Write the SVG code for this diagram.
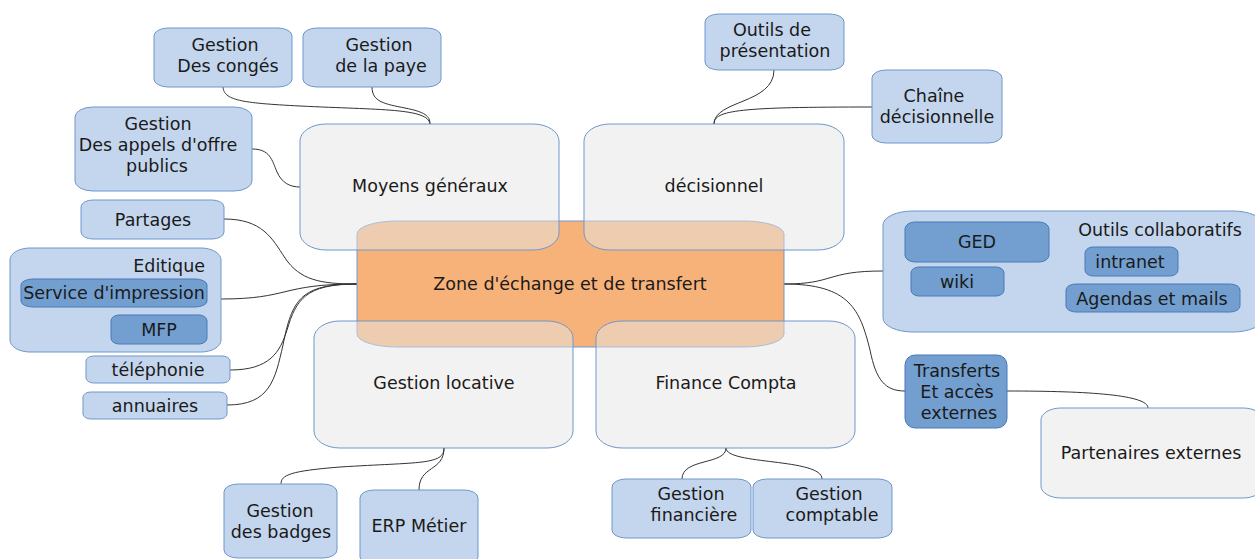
<svg xmlns="http://www.w3.org/2000/svg" width="1255" height="559" viewBox="0 0 1255 559">
<style>
text{font-family:"DejaVu Sans","Liberation Sans",sans-serif;font-size:17.5px;fill:#1a1a1a;text-anchor:middle}
.lb{fill:#c4d6ee;stroke:#6f97cc;stroke-width:1}
.db{fill:#729fcf;stroke:#4a78b8;stroke-width:1}
.gr{fill:#e6e6e6;fill-opacity:0.5;stroke:#6f97cc;stroke-width:1}
.or{fill:#f7b27a;stroke:#6f97cc;stroke-width:1}
.c{fill:none;stroke:#333;stroke-width:1}
</style>
<rect width="1255" height="559" fill="#fff"/>
<g id="connectors">
<path class="c" d="M223,87 C224,100 240,103 300,106 C380,110 428,108 430,124"/>
<path class="c" d="M372,87 C372,102 385,104 405,108 C425,112 430,116 430,124"/>
<path class="c" d="M252,149 C270,149 272,160 277,172 C282,183 290,187 300,187"/>
<path class="c" d="M224,219 C262,219 272,238 285,258 C300,280 320,284 357,284"/>
<path class="c" d="M221,299 C290,299 280,284 357,284"/>
<path class="c" d="M230,370 C270,370 280,352 287,330 C296,300 305,284 357,284"/>
<path class="c" d="M227,405 C270,405 275,380 283,345 C292,300 300,284 357,284"/>
<path class="c" d="M784,284 C835,284 825,271 883,271"/>
<path class="c" d="M784,284 C850,284 860,310 870,350 C876,380 885,391 905,391"/>
<path class="c" d="M1007,391 C1090,391 1148,395 1148,408"/>
<path class="c" d="M714,124 C714,100 774,104 774,70"/>
<path class="c" d="M714,124 C714,110 740,107 872,107"/>
<path class="c" d="M444,448 C444,465 420,462 340,467 C290,471 281,475 281,484"/>
<path class="c" d="M444,448 C444,472 419,465 419,490"/>
<path class="c" d="M726,448 C726,465 682,458 682,479"/>
<path class="c" d="M726,448 C726,465 822,458 822,479"/>
</g>
<g id="zone">
<rect class="or" x="357" y="221" width="427" height="126" rx="40" ry="13"/>
</g>
<g id="moyens">
<rect class="gr" x="300" y="124" width="259" height="126" rx="26" ry="17"/>
<text x="430" y="192">Moyens généraux</text>
</g>
<g id="decisionnel">
<rect class="gr" x="584" y="124" width="260" height="126" rx="26" ry="17"/>
<text x="714" y="192">décisionnel</text>
</g>
<g id="locative">
<rect class="gr" x="314" y="321" width="259" height="127" rx="26" ry="17"/>
<text x="444" y="389">Gestion locative</text>
</g>
<g id="finance">
<rect class="gr" x="596" y="321" width="259" height="127" rx="26" ry="17"/>
<text x="726" y="389">Finance Compta</text>
</g>
<g id="zone-label">
<text x="570" y="290">Zone d'échange et de transfert</text>
</g>
<g id="conges">
<rect class="lb" x="154" y="28" width="138" height="59" rx="14" ry="8"/>
<text x="225" y="51">Gestion</text>
<text x="228" y="72">Des congés</text>
</g>
<g id="paye">
<rect class="lb" x="303" y="28" width="138" height="59" rx="14" ry="8"/>
<text x="379" y="51">Gestion</text>
<text x="381" y="72">de la paye</text>
</g>
<g id="appels">
<rect class="lb" x="75" y="107" width="177" height="84" rx="18" ry="10"/>
<text x="158" y="130">Gestion</text>
<text x="158" y="151">Des appels d'offre</text>
<text x="157" y="172">publics</text>
</g>
<g id="partages">
<rect class="lb" x="81" y="200" width="143" height="39" rx="12" ry="7"/>
<text x="153" y="226">Partages</text>
</g>
<g id="editique">
<rect class="lb" x="10" y="248" width="211" height="104" rx="20" ry="12"/>
<text x="205" y="272" style="text-anchor:end">Editique</text>
<rect class="db" x="21" y="279" width="186" height="28" rx="12" ry="6"/>
<text x="114" y="299">Service d'impression</text>
<rect class="db" x="111" y="315" width="96" height="29" rx="8" ry="6"/>
<text x="159" y="336">MFP</text>
</g>
<g id="telephonie">
<rect class="lb" x="86" y="356" width="144" height="27" rx="8" ry="5"/>
<text x="158" y="376">téléphonie</text>
</g>
<g id="annuaires">
<rect class="lb" x="83" y="392" width="144" height="27" rx="8" ry="5"/>
<text x="155" y="412">annuaires</text>
</g>
<g id="presentation">
<rect class="lb" x="705" y="14" width="139" height="56" rx="14" ry="8"/>
<text x="772" y="36">Outils de</text>
<text x="775" y="57">présentation</text>
</g>
<g id="chaine">
<rect class="lb" x="872" y="70" width="130" height="73" rx="14" ry="8"/>
<text x="934" y="102">Chaîne</text>
<text x="937" y="123">décisionnelle</text>
</g>
<g id="collaboratifs">
<rect class="lb" x="883" y="211" width="380" height="121" rx="30" ry="14"/>
<text x="1160" y="236">Outils collaboratifs</text>
<rect class="db" x="905" y="222" width="144" height="40" rx="10" ry="7"/>
<text x="977" y="248">GED</text>
<rect class="db" x="911" y="267" width="93" height="29" rx="8" ry="6"/>
<text x="957" y="288">wiki</text>
<rect class="db" x="1085" y="247" width="93" height="29" rx="8" ry="6"/>
<text x="1130" y="268">intranet</text>
<rect class="db" x="1066" y="284" width="174" height="28" rx="10" ry="6"/>
<text x="1152" y="305">Agendas et mails</text>
</g>
<g id="transferts">
<rect class="db" x="905" y="355" width="102" height="73" rx="10" ry="10"/>
<text x="957" y="377">Transferts</text>
<text x="957" y="398">Et accès</text>
<text x="959" y="419">externes</text>
</g>
<g id="partenaires">
<rect class="gr" x="1041" y="408" width="222" height="90" rx="20" ry="12"/>
<text x="1151" y="459">Partenaires externes</text>
</g>
<g id="badges">
<rect class="lb" x="224" y="484" width="113" height="74" rx="14" ry="8"/>
<text x="280" y="517">Gestion</text>
<text x="281" y="538">des badges</text>
</g>
<g id="erp">
<rect class="lb" x="360" y="490" width="118" height="75" rx="14" ry="8"/>
<text x="419" y="532">ERP Métier</text>
</g>
<g id="financiere">
<rect class="lb" x="612" y="479" width="139" height="59" rx="14" ry="8"/>
<text x="691" y="500">Gestion</text>
<text x="694" y="521">financière</text>
</g>
<g id="comptable">
<rect class="lb" x="753" y="479" width="139" height="59" rx="14" ry="8"/>
<text x="829" y="500">Gestion</text>
<text x="832" y="521">comptable</text>
</g>
</svg>
